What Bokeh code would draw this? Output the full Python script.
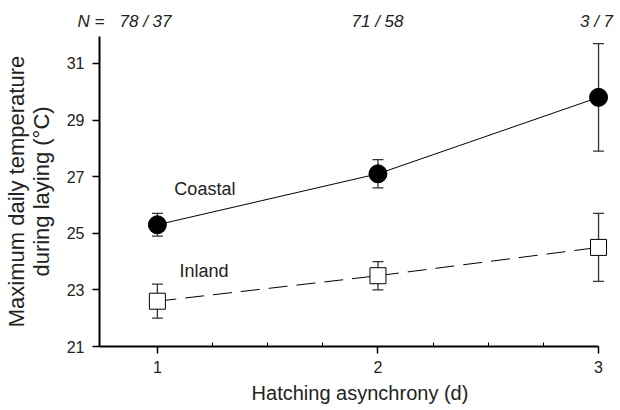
from bokeh.plotting import figure
from bokeh.layouts import column
from bokeh.models import ColumnDataSource, Whisker, Label, FixedTicker, Range1d, TeeHead
from bokeh.core.properties import value
from bokeh.embed import file_html
from bokeh.resources import INLINE

asynchrony = [1, 2, 3]
coastal_mean = [25.3, 27.1, 29.8]
coastal_lo = [24.9, 26.6, 27.9]
coastal_hi = [25.7, 27.6, 31.7]
inland_mean = [22.6, 23.5, 24.5]
inland_lo = [22.0, 23.0, 23.3]
inland_hi = [23.2, 24.0, 25.7]
n_labels = ["78 / 37", "71 / 58", "3 / 7"]
y_ticks = [21, 23, 25, 27, 29, 31]
x_ticks = [1, 2, 3]

FONT = "Liberation Sans"
TXT = "#222222"
PX_PER_X = 221.0
W = 620
X_MAX = 3 + 22 / PX_PER_X
TOP_H = 36

# ---- top strip with sample sizes ----
top = figure(width=W, height=TOP_H, output_backend="svg", toolbar_location=None,
             x_range=Range1d(1 - 156 / PX_PER_X, X_MAX), y_range=Range1d(0, TOP_H),
             x_axis_type=None, y_axis_type=None,
             min_border_left=0, min_border_right=0, min_border_top=0, min_border_bottom=0)
top.outline_line_color = None
nsrc = ColumnDataSource(dict(x=asynchrony, y=[15] * 3, t=n_labels,
                             dx=[-37, 0, -2], align=["left", "center", "center"]))
top.text(x="x", y="y", text="t", x_offset="dx", text_align="align", source=nsrc,
         text_baseline="alphabetic", text_font=value(FONT), text_font_size="17px",
         text_font_style="italic", text_color=TXT)
top.text(x=[1], y=[15], text=["N ="], x_offset=[-52], text_align="right",
         text_baseline="alphabetic", text_font=value(FONT), text_font_size="17px",
         text_font_style="italic", text_color=TXT)

# ---- main plot ----
p = figure(width=W, height=410 - TOP_H, output_backend="svg", toolbar_location=None,
           x_range=Range1d(1 - 58 / PX_PER_X, X_MAX), y_range=Range1d(21, 31.95),
           min_border_left=98, min_border_right=0, min_border_top=0, min_border_bottom=64)
p.xgrid.visible = False
p.ygrid.visible = False
p.outline_line_color = None

try:
    top.frame_align = False
    p.frame_align = False
except Exception:
    pass

cs = ColumnDataSource(dict(x=asynchrony, y=coastal_mean, lo=coastal_lo, hi=coastal_hi))
ins = ColumnDataSource(dict(x=asynchrony, y=inland_mean, lo=inland_lo, hi=inland_hi))

for src in (cs, ins):
    w = Whisker(base="x", lower="lo", upper="hi", source=src, line_color="#333333", line_width=1.3,
                upper_head=TeeHead(size=11, line_color="#333333", line_width=1.3),
                lower_head=TeeHead(size=11, line_color="#333333", line_width=1.3), level="underlay")
    p.add_layout(w)

p.line("x", "y", source=cs, line_color="black", line_width=1)
p.line("x", "y", source=ins, line_color="black", line_width=1, line_dash="19 9")
p.scatter("x", "y", source=cs, marker="circle", size=18, fill_color="black", line_color="black")
p.scatter("x", "y", source=ins, marker="square", size=16, fill_color="white", line_color="black", line_width=1)

p.xaxis.ticker = FixedTicker(ticks=x_ticks, minor_ticks=[1.25, 1.5, 1.75, 2.25, 2.5, 2.75])
p.yaxis.ticker = FixedTicker(ticks=y_ticks, minor_ticks=[])
p.xaxis.bounds = (1 - 58 / PX_PER_X, 3.0)
for ax in (p.xaxis, p.yaxis):
    ax.axis_line_width = 2
    ax.axis_line_color = "black"
    ax.major_tick_line_color = "black"
    ax.major_tick_line_width = 1.5
    ax.major_tick_out = 7
    ax.major_tick_in = 0
    ax.major_label_text_font = FONT
    ax.major_label_text_font_size = "16px"
    ax.major_label_text_color = TXT
    ax.axis_label_text_font = FONT
    ax.axis_label_text_font_style = "normal"
    ax.axis_label_text_color = TXT
p.xaxis.axis_label_text_font_size = "20px"
p.yaxis.axis_label_text_font_size = "22px"
p.yaxis.axis_label_text_line_height = 1.0
p.xaxis.minor_tick_in = 4
p.xaxis.minor_tick_out = 0
p.xaxis.minor_tick_line_color = "black"
p.yaxis.minor_tick_line_color = None
p.xaxis.major_label_standoff = 7
p.yaxis.major_label_standoff = 8
p.xaxis.axis_label = "Hatching asynchrony (d)"
p.yaxis.axis_label = "Maximum daily temperature\nduring laying (°C)"
p.xaxis.axis_label_standoff = 6
p.yaxis.axis_label_standoff = 10

p.add_layout(Label(x=1.077, y=26.55, text="Coastal", text_align="left", text_baseline="middle",
                   text_font=FONT, text_font_size="18px", text_color=TXT))
p.add_layout(Label(x=1.1, y=23.65, text="Inland", text_align="left", text_baseline="middle",
                   text_font=FONT, text_font_size="18px", text_color=TXT))

layout = column(top, p, spacing=0)
open("out.html", "w").write(file_html(layout, INLINE))
